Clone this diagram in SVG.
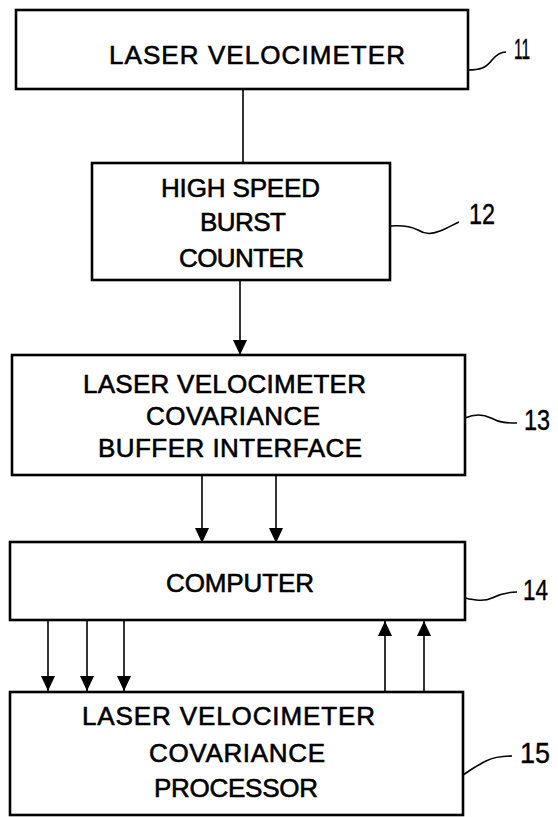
<svg xmlns="http://www.w3.org/2000/svg" width="558" height="817" viewBox="0 0 558 817">
<style>
.box{fill:#fff;stroke:#000;stroke-width:2.6}
.t{font-family:"Liberation Sans",Arial,sans-serif;font-size:26px;fill:#000;stroke:#000;stroke-width:0.6}
.n{font-family:"Liberation Sans",Arial,sans-serif;font-size:30px;fill:#000;stroke:#000;stroke-width:0.4}
.c{stroke:#000;stroke-width:1.6;fill:none}
.ld{stroke:#000;stroke-width:1.6;fill:none}
</style>
<defs>
<marker id="ah" markerUnits="userSpaceOnUse" markerWidth="16" markerHeight="16" viewBox="0 0 16 16" refX="15" refY="8" orient="auto">
<path d="M0,1 L15,8 L0,15 Z" fill="#000"/>
</marker>
</defs>
<rect width="558" height="817" fill="#fff"/>
<g id="connectors">
<line class="c" x1="243" y1="89" x2="243" y2="163"/>
<line class="c" x1="240" y1="280" x2="240" y2="355" marker-end="url(#ah)"/>
<line class="c" x1="202" y1="475" x2="202" y2="543" marker-end="url(#ah)"/>
<line class="c" x1="276" y1="475" x2="276" y2="543" marker-end="url(#ah)"/>
<line class="c" x1="48" y1="620" x2="48" y2="691" marker-end="url(#ah)"/>
<line class="c" x1="87" y1="620" x2="87" y2="691" marker-end="url(#ah)"/>
<line class="c" x1="124" y1="620" x2="124" y2="691" marker-end="url(#ah)"/>
<line class="c" x1="385" y1="693" x2="385" y2="621" marker-end="url(#ah)"/>
<line class="c" x1="424" y1="693" x2="424" y2="621" marker-end="url(#ah)"/>
</g>
<g id="n11">
<rect class="box" x="16" y="10" width="452" height="79"/>
<text class="t" x="109" y="64" textLength="296" lengthAdjust="spacing">LASER VELOCIMETER</text>
<path class="ld" d="M468,70 C480,70 486,68 492,60 C497,54 502,52 506,52"/>
<text class="n" x="514" y="59" textLength="16" lengthAdjust="spacingAndGlyphs">11</text>
</g>
<g id="n12">
<rect class="box" x="92" y="163" width="298" height="117"/>
<text class="t" x="161" y="197" textLength="159" lengthAdjust="spacing">HIGH SPEED</text>
<text class="t" x="200" y="231" textLength="86" lengthAdjust="spacing">BURST</text>
<text class="t" x="179" y="267" textLength="125" lengthAdjust="spacing">COUNTER</text>
<path class="ld" d="M390,226 C402,225 410,226 418,230 C426,235 432,234 440,231 C448,228 454,224 459,222"/>
<text class="n" x="469" y="224" textLength="26" lengthAdjust="spacingAndGlyphs">12</text>
</g>
<g id="n13">
<rect class="box" x="12" y="355" width="453" height="120"/>
<text class="t" x="83" y="393" textLength="283" lengthAdjust="spacing">LASER VELOCIMETER</text>
<text class="t" x="146" y="425" textLength="174" lengthAdjust="spacing">COVARIANCE</text>
<text class="t" x="98" y="457" textLength="264" lengthAdjust="spacing">BUFFER INTERFACE</text>
<path class="ld" d="M465,418 C474,414 483,414 491,418 C500,423 508,423 517,423"/>
<text class="n" x="524" y="430" textLength="26" lengthAdjust="spacingAndGlyphs">13</text>
</g>
<g id="n14">
<rect class="box" x="10" y="542" width="455" height="78"/>
<text class="t" x="166" y="592" textLength="148" lengthAdjust="spacing">COMPUTER</text>
<path class="ld" d="M465,598 C474,600 484,602 492,598 C500,594 508,592 517,592"/>
<text class="n" x="523" y="600" textLength="25" lengthAdjust="spacingAndGlyphs">14</text>
</g>
<g id="n15">
<rect class="box" x="10" y="692" width="453" height="123"/>
<text class="t" x="82" y="725" textLength="293" lengthAdjust="spacing">LASER VELOCIMETER</text>
<text class="t" x="149" y="762" textLength="176" lengthAdjust="spacing">COVARIANCE</text>
<text class="t" x="154" y="797" textLength="164" lengthAdjust="spacing">PROCESSOR</text>
<path class="ld" d="M463,775 C470,770 478,765 486,761 C494,757 502,756 512,756"/>
<text class="n" x="520" y="763" textLength="30" lengthAdjust="spacingAndGlyphs">15</text>
</g>
</svg>
